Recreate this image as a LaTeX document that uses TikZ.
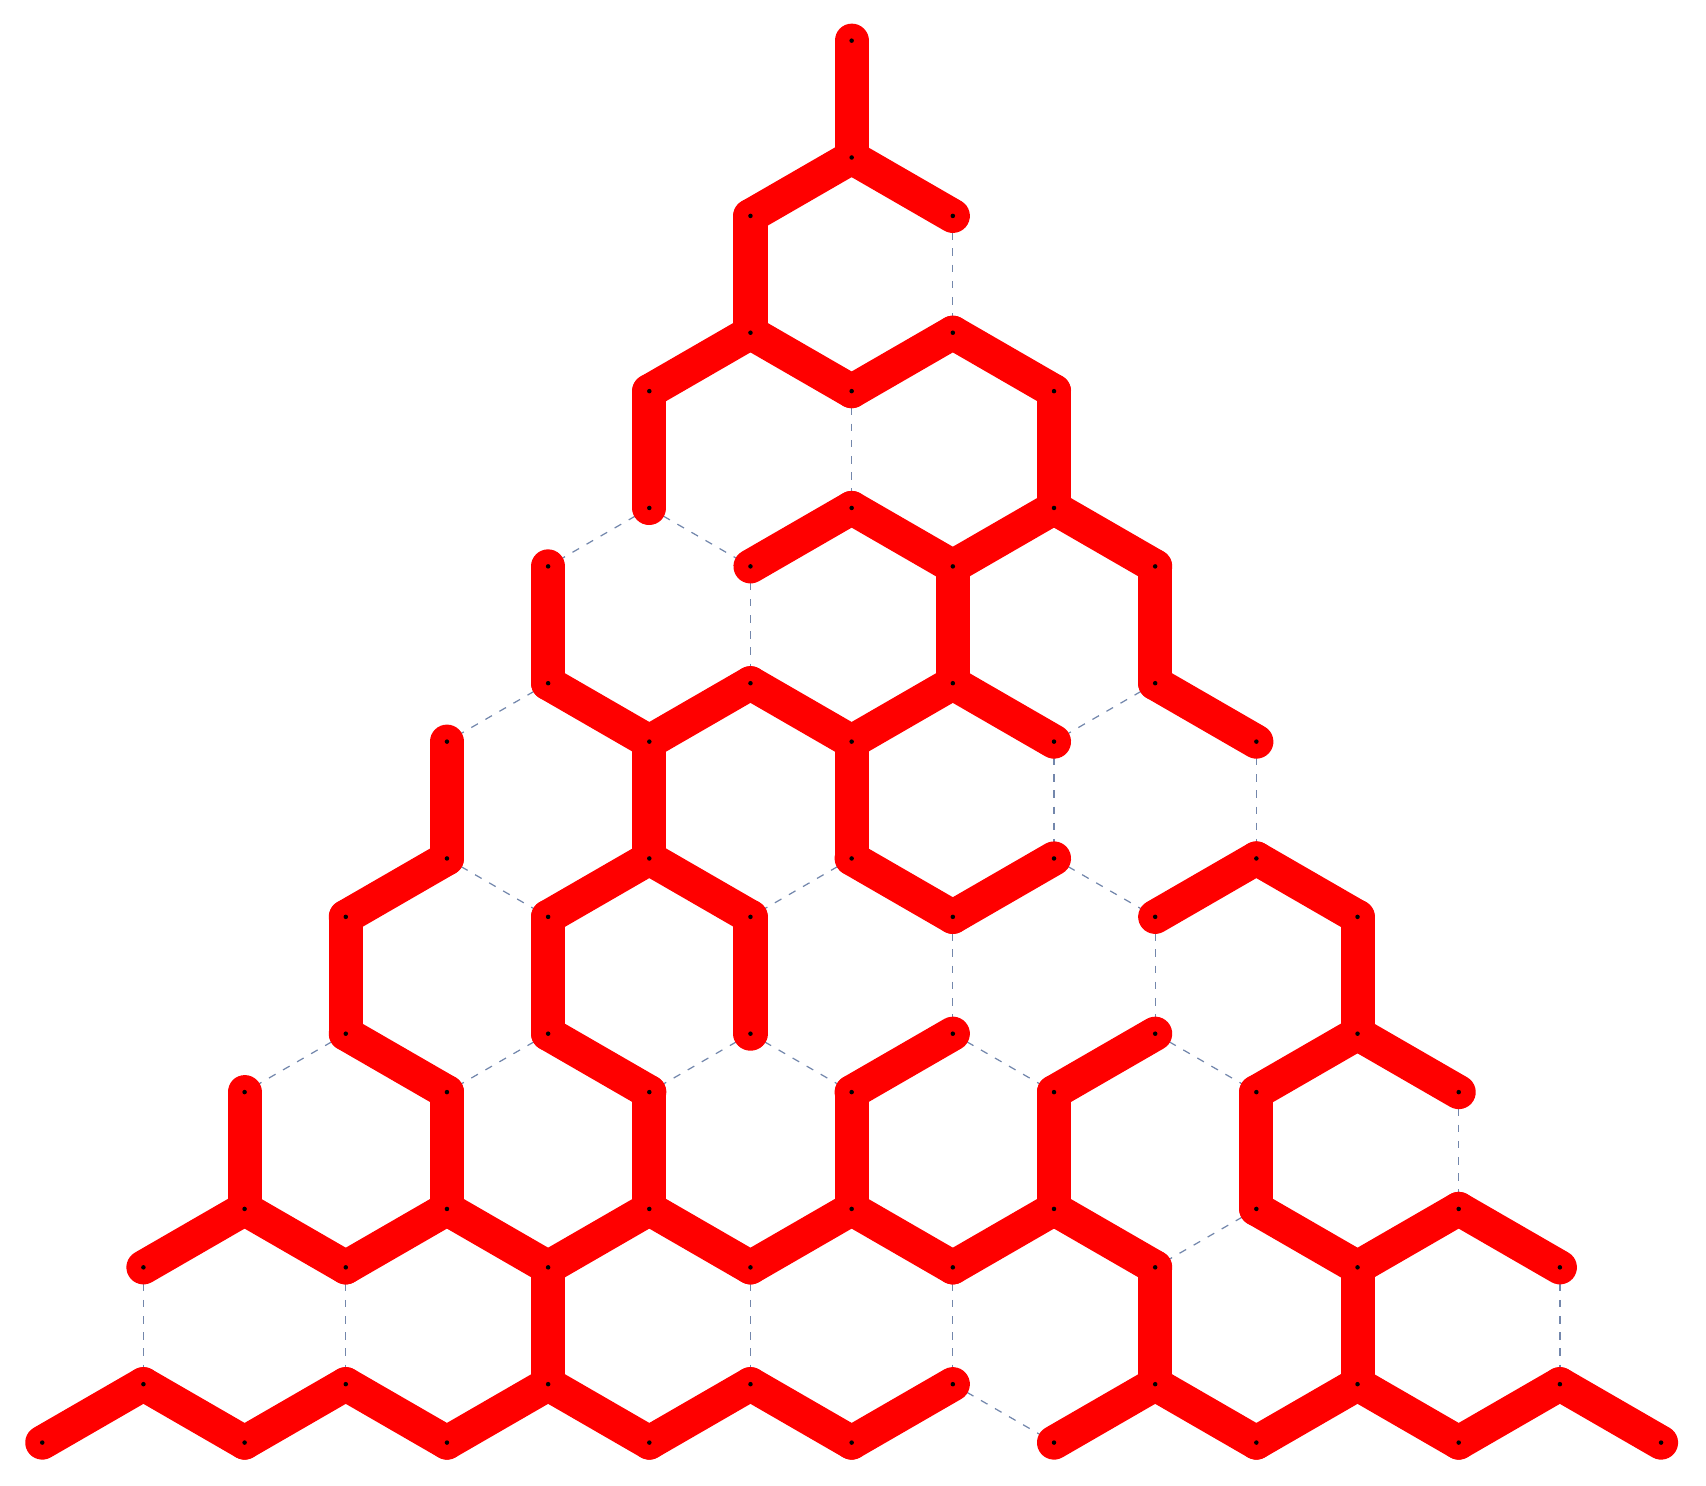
\documentclass[tikz,border=0pt]{standalone}
\definecolor{dashblue}{RGB}{115,135,172}
\begin{document}
\begin{tikzpicture}[x=1cm,y=1cm,
  redge/.style={draw=red, line width=8.3pt, line cap=round, line join=round},
  dedge/.style={draw=dashblue, line width=0.3pt, dash pattern=on 1.85pt off 2.1pt},
  vdot/.style={fill=black, draw=none}]
\useasboundingbox (-7.290,-12.371) rectangle (7.313,0.348);
% vertices: level k (0..16), column c, named v<k>n<c+8>
\foreach \k in {0,...,16}{
  \pgfmathtruncatemacro{\j}{floor(\k/2)}
  \pgfmathsetmacro{\yy}{mod(\k,2)==0 ? -0.75*\k : -0.75*(\k-1)-1}
  \foreach \i in {0,...,\j}{
    \pgfmathtruncatemacro{\c}{2*\i-\j}
    \pgfmathtruncatemacro{\n}{\c+8}
    \coordinate (v\k n\n) at ({0.8660254*\c},\yy);
  }
}
% dashed edges: level k col a  ->  level k+1 col b
\foreach \k/\a/\b in {2/1/1, 4/0/0, 6/-1/-1, 8/2/2, 8/4/4, 10/1/1, 10/3/3, 12/6/6,
  14/-7/-7, 14/-5/-5, 14/-1/-1, 14/1/1, 14/7/7,
  5/-2/-3, 5/-2/-1, 7/-3/-4, 7/3/2, 9/-4/-3, 9/0/-1, 9/2/3,
  11/-5/-6, 11/-3/-4, 11/-1/-2, 11/-1/0, 11/1/2, 11/3/4, 13/4/3, 15/1/2}{
  \pgfmathtruncatemacro{\kk}{\k+1}
  \pgfmathtruncatemacro{\na}{\a+8}
  \pgfmathtruncatemacro{\nb}{\b+8}
  \draw[dedge] (v\k n\na) -- (v\kk n\nb);
}
% red edges
\foreach \k/\a/\b in {0/0/0, 2/-1/-1, 4/-2/-2, 4/2/2, 6/-3/-3, 6/1/1, 6/3/3,
  8/-4/-4, 8/-2/-2, 8/0/0, 10/-5/-5, 10/-3/-3, 10/-1/-1, 10/5/5,
  12/-6/-6, 12/-4/-4, 12/-2/-2, 12/0/0, 12/2/2, 12/4/4, 14/-3/-3, 14/3/3, 14/5/5,
  1/0/-1, 1/0/1, 3/-1/-2, 3/-1/0, 3/1/0, 3/1/2,
  5/0/-1, 5/0/1, 5/2/1, 5/2/3,
  7/-3/-2, 7/-1/-2, 7/-1/0, 7/1/0, 7/1/2, 7/3/4,
  9/-4/-5, 9/-2/-3, 9/-2/-1, 9/0/1, 9/2/1, 9/4/3, 9/4/5,
  11/-5/-4, 11/-3/-2, 11/1/0, 11/3/2, 11/5/4, 11/5/6,
  13/-6/-7, 13/-6/-5, 13/-4/-5, 13/-4/-3, 13/-2/-3, 13/-2/-1, 13/0/-1, 13/0/1,
  13/2/1, 13/2/3, 13/4/5, 13/6/5, 13/6/7,
  15/-7/-8, 15/-7/-6, 15/-5/-6, 15/-5/-4, 15/-3/-4, 15/-3/-2, 15/-1/-2, 15/-1/0,
  15/1/0, 15/3/2, 15/3/4, 15/5/4, 15/5/6, 15/7/6, 15/7/8}{
  \pgfmathtruncatemacro{\kk}{\k+1}
  \pgfmathtruncatemacro{\na}{\a+8}
  \pgfmathtruncatemacro{\nb}{\b+8}
  \draw[redge] (v\k n\na) -- (v\kk n\nb);
}
% vertex dots
\foreach \k in {0,...,16}{
  \pgfmathtruncatemacro{\j}{floor(\k/2)}
  \foreach \i in {0,...,\j}{
    \pgfmathtruncatemacro{\n}{2*\i-\j+8}
    \fill[vdot] (v\k n\n) circle (0.55pt);
  }
}
\end{tikzpicture}
\end{document}
